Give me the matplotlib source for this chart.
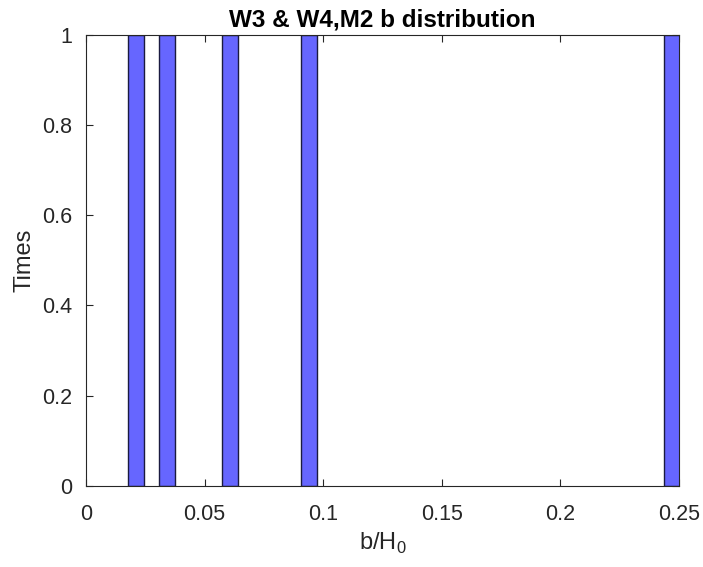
import matplotlib
matplotlib.use("Agg")
import matplotlib.pyplot as plt

plt.rcParams['font.family'] = ['Liberation Sans', 'DejaVu Sans']
plt.rcParams['mathtext.fontset'] = 'custom'
plt.rcParams['mathtext.rm'] = 'Liberation Sans'

# data
bin_centers = [0.0210, 0.0342, 0.0606, 0.0939, 0.2469]
counts = [1, 1, 1, 1, 1]
bar_width = 0.0068
xticks = [0, 0.05, 0.1, 0.15, 0.2, 0.25]
xtick_labels = ['0', '0.05', '0.1', '0.15', '0.2', '0.25']
yticks = [0, 0.2, 0.4, 0.6, 0.8, 1]
ytick_labels = ['0', '0.2', '0.4', '0.6', '0.8', '1']

fig = plt.figure(figsize=(7.03, 5.67), dpi=100)
ax = fig.add_axes([86/703, 1-486/567, (679-86)/703, (486-34.7)/567])

ax.bar(bin_centers, counts, width=bar_width, color='#6666FF',
       edgecolor='#1a1a40', linewidth=1.0, zorder=2)

ax.set_xlim(0, 0.25)
ax.set_ylim(0, 1)
ax.set_xticks(xticks)
ax.set_xticklabels(xtick_labels)
ax.set_yticks(yticks)
ax.set_yticklabels(ytick_labels)

gray = '#262626'
for s in ax.spines.values():
    s.set_color(gray)
    s.set_linewidth(0.8)
    s.set_zorder(3)
ax.tick_params(direction='in', top=True, right=True, length=5, width=0.8,
               color=gray, labelcolor=gray, labelsize=15.5)
ax.tick_params(axis='x', pad=13)
ax.tick_params(axis='y', pad=10)

ax.set_title('W3 & W4,M2 b distribution', fontsize=17.5, fontweight='bold',
             color='black', pad=6)
ax.set_xlabel(r'b/H$_{\mathregular{0}}$', fontsize=17, color=gray, labelpad=4)
ax.set_ylabel('Times', fontsize=17, color=gray, labelpad=5)

fig.savefig('out.png', dpi=100)
